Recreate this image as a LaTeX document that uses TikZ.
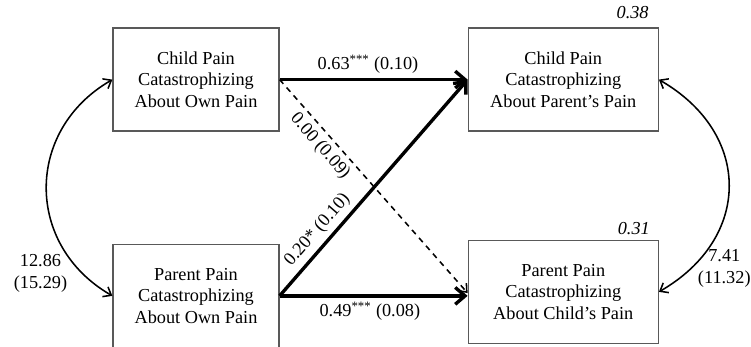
\documentclass[tikz,border=0pt]{standalone}
\usepackage{fontspec}
\setmainfont{Liberation Serif}
\usetikzlibrary{arrows.meta, positioning}

\begin{document}
\begin{tikzpicture}[node distance=2cm, auto,
    font=\fontsize{13pt}{15.4pt}\selectfont,
    box/.style={draw=black!65, line width=0.9pt, minimum height=2.575cm, align=center},
    effect/.style={line width=2.4pt, -{Straight Barb[length=7pt, width=12pt]}},
    nulleffect/.style={line width=1.1pt, dash pattern=on 4pt off 3.5pt, -{Straight Barb[length=5pt, width=8pt]}},
    covar/.style={line width=1.1pt, {Straight Barb[length=5pt, width=8pt]}-{Straight Barb[length=5pt, width=8pt]}},
    rsq/.style={inner sep=0pt, anchor=south east, font=\fontsize{13pt}{15.4pt}\selectfont\itshape}]
            \useasboundingbox (-4.9,1.99) rectangle (13.875,-6.66);

            \node[box, minimum width=4.15cm] (CO) at (0,0) {Child Pain\\Catastrophizing\\About Own Pain};
            \node[box, minimum width=4.75cm, right=4.7cm of CO] (CP) {Child Pain\\Catastrophizing\\About Parent’s Pain};
            \node[box, minimum width=4.15cm, below=2.8cm of CO] (PO) {Parent Pain\\Catastrophizing\\About Own Pain};
            \node[box, minimum width=4.75cm, below=2.7cm of CP] (PC) {Parent Pain\\Catastrophizing\\About Child’s Pain};

            \node[rsq] (r2cp) at ([xshift=-0.25cm, yshift=0.2cm]CP.north east) {0.38};
            \node[rsq] (r2pc) at ([xshift=-0.22cm, yshift=0.13cm]PC.north east) {0.31};

            % paths
            \draw[effect] (CO.east) -- (CP.west)
            node[pos=0.47, above] {0.63\textsuperscript{***} (0.10)};
            \draw[effect] (PO.east) -- (PO.east -| PC.west)
            node[pos=0.48, below] {0.49\textsuperscript{***} (0.08)};
            \draw[effect] (PO.east) -- (CP.west)
            node[pos=0.26, above, sloped] {0.20* (0.10)};
            \draw[nulleffect] (CO.east) -- ([yshift=0.07cm]PO.east -| PC.west)
            node[pos=0.27, below, sloped] {0.00 (0.09)};

            % covariances
            \draw[covar] (CO.west) to[out=210, in=150, looseness=1.2]
            node[pos=0.87, left=0.25cm, align=center] {12.86\\(15.29)} (PO.west);
            \draw[covar] (CP.east) to[out=-30, in=30, looseness=1.3]
            node[pos=0.87, right=0.05cm, align=center] {7.41\\(11.32)} (PC.east);
        \end{tikzpicture}
\end{document}
